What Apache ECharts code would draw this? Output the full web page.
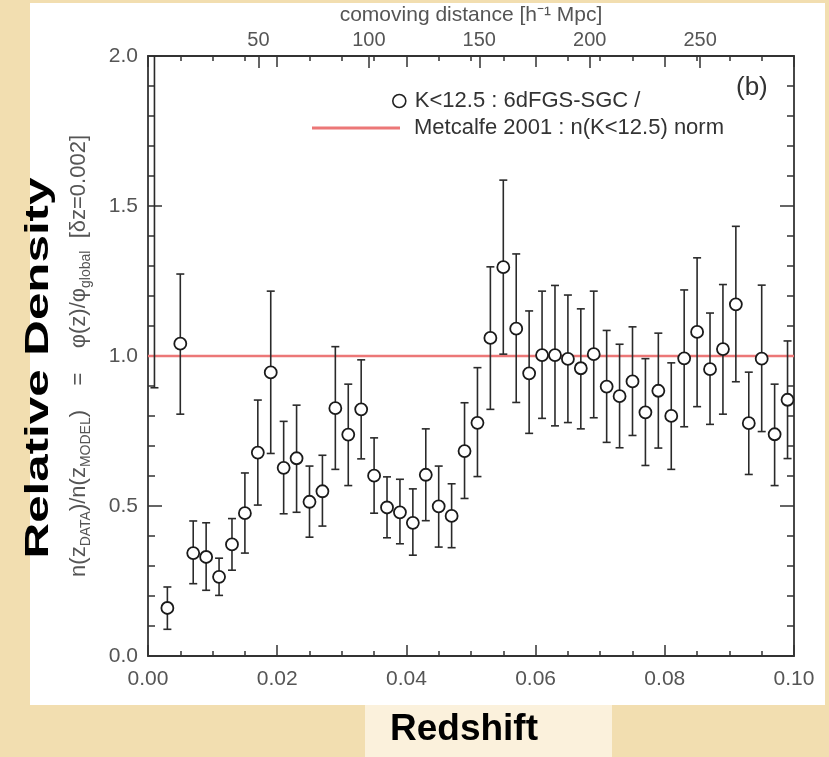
<!DOCTYPE html>
<html>
<head>
<meta charset="utf-8">
<script src="https://cdn.jsdelivr.net/npm/echarts@6/dist/echarts.min.js"></script>
<style>
  html, body { margin: 0; padding: 0; background: #f2deb0; }
  #chart { width: 829px; height: 757px; }
</style>
</head>
<body>
<div id="chart"></div>
<script>
// redshift bin centres (dz = 0.002)
const redshift = [
  0.001, 0.003, 0.005, 0.007, 0.009, 0.011, 0.013, 0.015, 0.017, 0.019,
  0.021, 0.023, 0.025, 0.027, 0.029, 0.031, 0.033, 0.035, 0.037, 0.039,
  0.041, 0.043, 0.045, 0.047, 0.049, 0.051, 0.053, 0.055, 0.057, 0.059,
  0.061, 0.063, 0.065, 0.067, 0.069, 0.071, 0.073, 0.075, 0.077, 0.079,
  0.081, 0.083, 0.085, 0.087, 0.089, 0.091, 0.093, 0.095, 0.097, 0.099
]
// relative density (first bin lies above the plotted range)
const density = [
  2.20, 0.160, 1.041, 0.343, 0.330, 0.264, 0.372, 0.476, 0.678, 0.945,
  0.627, 0.659, 0.514, 0.549, 0.826, 0.738, 0.822, 0.601, 0.495, 0.479,
  0.444, 0.604, 0.499, 0.467, 0.683, 0.777, 1.060, 1.296, 1.091, 0.942,
  1.003, 1.003, 0.990, 0.959, 1.006, 0.898, 0.866, 0.915, 0.812, 0.884,
  0.800, 0.992, 1.080, 0.956, 1.023, 1.172, 0.776, 0.991, 0.739, 0.854
]
const errLow = [
  0.894, 0.089, 0.806, 0.241, 0.219, 0.202, 0.286, 0.343, 0.503, 0.675,
  0.474, 0.479, 0.396, 0.433, 0.622, 0.568, 0.657, 0.476, 0.394, 0.374,
  0.336, 0.451, 0.363, 0.361, 0.525, 0.598, 0.822, 1.006, 0.845, 0.742,
  0.792, 0.767, 0.778, 0.757, 0.794, 0.712, 0.694, 0.735, 0.635, 0.693,
  0.622, 0.764, 0.831, 0.772, 0.806, 0.914, 0.605, 0.748, 0.568, 0.658
]
const errHigh = [
  3.50, 0.230, 1.273, 0.450, 0.444, 0.326, 0.458, 0.610, 0.853, 1.216,
  0.782, 0.836, 0.633, 0.669, 1.031, 0.906, 0.987, 0.727, 0.597, 0.589,
  0.557, 0.757, 0.633, 0.574, 0.844, 0.961, 1.297, 1.586, 1.340, 1.150,
  1.216, 1.235, 1.203, 1.157, 1.216, 1.085, 1.039, 1.097, 0.991, 1.076,
  0.977, 1.220, 1.327, 1.143, 1.238, 1.432, 0.946, 1.236, 0.906, 1.050
]
// Metcalfe 2001 normalisation
const modelZ = [0, 0.1]
const modelY = [1, 1]

const zTicks = [0, 0.1]        // min / max redshift
const distTicks = [0, 292.5]   // comoving distance range [h^-1 Mpc]
const dataName = 'K<12.5 : 6dFGS-SGC /'
const modelName = 'Metcalfe 2001 : n(K<12.5) norm'

const chart = echarts.init(document.getElementById('chart'))

const axisColor = '#333'
const labelColor = '#555'
const font = 'Liberation Sans, Arial, sans-serif'

// shared tick styling for the frame
const zAxisBase = {
  type: 'value',
  min: zTicks[0], max: zTicks[1], interval: 0.02,
  axisLine: { onZero: false, lineStyle: { color: axisColor, width: 1.8 } },
  axisTick: { inside: true, length: 11, lineStyle: { color: axisColor, width: 1.5 } },
  minorTick: { show: true, splitNumber: 4, length: 5, lineStyle: { color: axisColor, width: 1.5 } },
  splitLine: { show: false }
}
const yAxisBase = {
  type: 'value',
  min: 0, max: 2, interval: 0.5,
  axisLine: { onZero: false, lineStyle: { color: axisColor, width: 1.8 } },
  axisTick: { inside: true, length: 14, lineStyle: { color: axisColor, width: 1.5 } },
  minorTick: { show: true, splitNumber: 5, length: 7, lineStyle: { color: axisColor, width: 1.5 } },
  splitLine: { show: false }
}

const option = {
  backgroundColor: '#f2deb0',
  animation: false,
  grid: { left: 148, top: 54, right: 35, bottom: 101 },
  title: {
    text: '(b)',
    left: 736, top: 75, padding: 0,
    textStyle: { fontFamily: font, fontSize: 26, fontWeight: 'normal', color: '#333' }
  },
  legend: [
    {
      data: [{ name: dataName, icon: 'circle', itemStyle: { color: '#fff', borderColor: '#222', borderWidth: 1.6 } }],
      left: 392, top: 90, padding: 0, itemWidth: 13, itemHeight: 13,
      selectedMode: false,
      textStyle: { fontFamily: font, fontSize: 22, color: '#333', padding: [0, 0, 0, 4] }
    },
    {
      data: [{ name: modelName, icon: 'rect', itemStyle: { color: '#ec7777' } }],
      left: 312, top: 117, padding: 0, itemWidth: 88, itemHeight: 3,
      selectedMode: false,
      textStyle: { fontFamily: font, fontSize: 22, color: '#333', padding: [0, 0, 0, 9] }
    }
  ],
  xAxis: [
    Object.assign({}, zAxisBase, {
      position: 'bottom',
      axisLabel: {
        margin: 13, fontFamily: font, fontSize: 21, color: labelColor,
        formatter: v => v.toFixed(2)
      }
    }),
    Object.assign({}, zAxisBase, {
      position: 'top',
      axisLabel: { show: false }
    }),
    {
      type: 'value', position: 'top',
      min: distTicks[0], max: distTicks[1], interval: 50,
      name: 'comoving distance [h⁻¹ Mpc]',
      nameLocation: 'middle', nameGap: 25,
      nameTextStyle: { fontFamily: font, fontSize: 21, color: labelColor },
      axisLine: { show: false, onZero: false },
      axisTick: { inside: true, length: 12, lineStyle: { color: axisColor, width: 1.5 } },
      splitLine: { show: false },
      axisLabel: {
        margin: 5, fontFamily: font, fontSize: 20, color: labelColor,
        showMinLabel: false, showMaxLabel: false,
        formatter: v => (v === 0 ? '' : String(v))
      }
    }
  ],
  yAxis: [
    Object.assign({}, yAxisBase, {
      position: 'left',
      name: '{a|n(z}{s|DATA}{a|)/n(z}{s|MODEL}{a|)    =    φ(z)/φ}{s|global}{a|  [δz=0.002]}',
      nameLocation: 'middle', nameGap: 55, nameRotate: 90,
      nameTextStyle: {
        rich: {
          a: { fontFamily: font, fontSize: 22, color: labelColor, lineHeight: 28 },
          s: { fontFamily: font, fontSize: 14, color: labelColor, lineHeight: 28, verticalAlign: 'bottom' }
        }
      },
      axisLabel: {
        margin: 10, fontFamily: font, fontSize: 21, color: labelColor,
        formatter: v => v.toFixed(1)
      }
    }),
    Object.assign({}, yAxisBase, {
      position: 'right',
      axisLabel: { show: false }
    })
  ],
  graphic: [
    // white figure panel
    { type: 'rect', z: -10, shape: { x: 30, y: 3, width: 795, height: 702 }, style: { fill: '#ffffff' } },
    // pale strip behind the x title
    { type: 'rect', z: -10, shape: { x: 365, y: 705, width: 247, height: 52 }, style: { fill: '#fbf1dc' } },
    {
      type: 'text', z: 100, x: 39, y: 368, rotation: Math.PI / 2, scaleX: 1.45,
      style: {
        text: 'Relative Density', fontFamily: font, fontWeight: 'bold', fontSize: 34,
        fill: '#000', align: 'center', verticalAlign: 'middle'
      }
    },
    {
      type: 'text', z: 100, x: 464, y: 730,
      style: {
        text: 'Redshift', fontFamily: font, fontWeight: 'bold', fontSize: 37,
        fill: '#000', align: 'center', verticalAlign: 'middle'
      }
    }
  ],
  series: [
    {
      name: modelName,
      type: 'line',
      xAxisIndex: 0, yAxisIndex: 0,
      symbol: 'none',
      lineStyle: { color: '#ec7777', width: 2.5 },
      data: modelZ.map((z, i) => [z, modelY[i]]),
      z: 1
    },
    {
      name: 'errors',
      type: 'custom',
      xAxisIndex: 0, yAxisIndex: 0,
      clip: true,
      renderItem: (params, api) => {
        const x = api.value(0)
        const lo = api.coord([x, api.value(1)])
        const hi = api.coord([x, api.value(2)])
        const hw = 4
        const st = { stroke: '#2a2a2a', lineWidth: 1.6 }
        return {
          type: 'group',
          children: [
            { type: 'line', shape: { x1: lo[0], y1: lo[1], x2: hi[0], y2: hi[1] }, style: st },
            { type: 'line', shape: { x1: lo[0] - hw, y1: lo[1], x2: lo[0] + hw, y2: lo[1] }, style: st },
            { type: 'line', shape: { x1: hi[0] - hw, y1: hi[1], x2: hi[0] + hw, y2: hi[1] }, style: st }
          ]
        }
      },
      encode: { x: 0, y: [1, 2] },
      data: redshift.map((z, i) => [z, errLow[i], errHigh[i]]),
      z: 2
    },
    {
      name: dataName,
      type: 'scatter',
      xAxisIndex: 0, yAxisIndex: 0,
      clip: true,
      symbol: 'circle',
      symbolSize: 12,
      itemStyle: { color: '#fff', borderColor: '#1a1a1a', borderWidth: 1.8, opacity: 1 },
      data: redshift.map((z, i) => [z, density[i]]),
      z: 3
    }
  ]
}

chart.setOption(option)
</script>
</body>
</html>
